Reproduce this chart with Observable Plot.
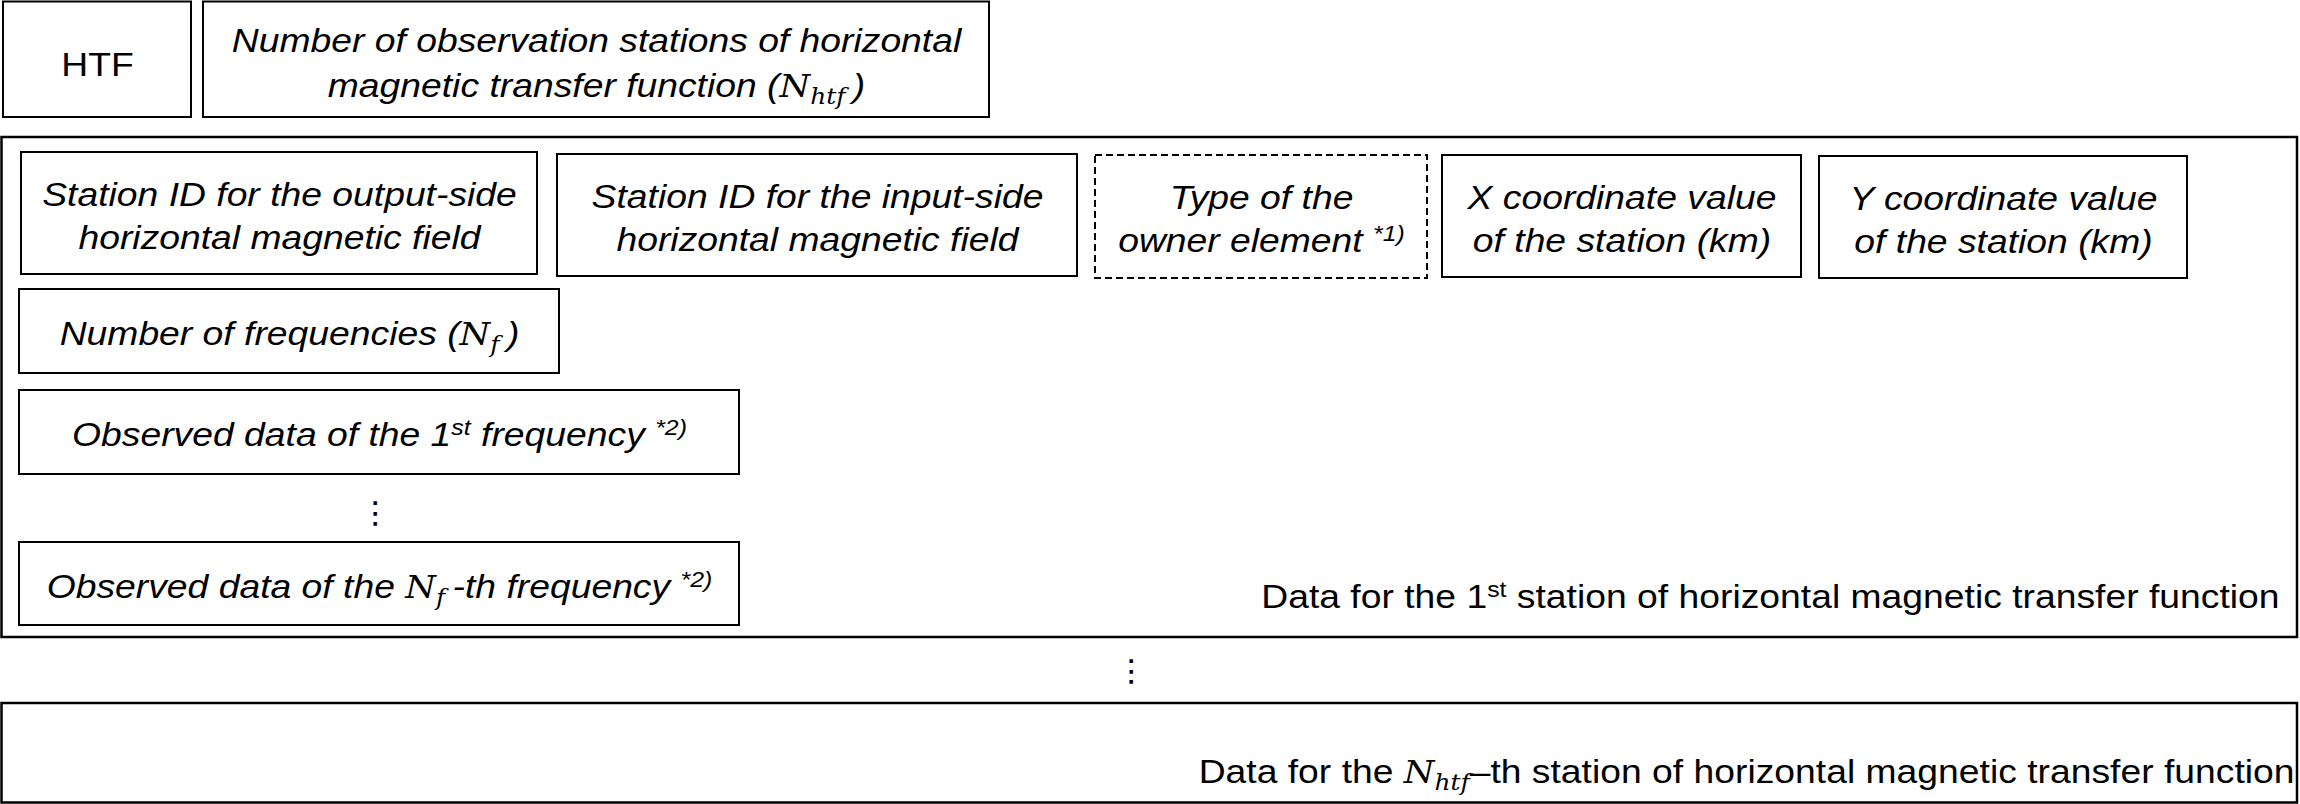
<!DOCTYPE html>
<html><head><meta charset="utf-8">
<script src="https://cdn.jsdelivr.net/npm/d3@7"></script>
<script src="https://cdn.jsdelivr.net/npm/@observablehq/plot@0.6"></script>
<style>html,body{margin:0;padding:0;background:#fff;} svg{display:block}</style>
</head><body><div id="chart"></div>
<script>
// ---------- content (text of every field) ----------
const headerLabels = [
  "HTF",
  "Number of observation stations of horizontal\nmagnetic transfer function ($N$_{htf}\u2009)"
];
const stationFieldLabels = [
  "Station ID for the output-side\nhorizontal magnetic field",
  "Station ID for the input-side\nhorizontal magnetic field",
  "Type of the\nowner element ^{*1)}",
  "X coordinate value\nof the station (km)",
  "Y coordinate value\nof the station (km)"
];
const optionalField = [false, false, true, false, false];
const frequencyLabels = [
  "Number of frequencies ($N$_{f}\u2009)",
  "Observed data of the 1^{st} frequency ^{*2)}",
  "Observed data of the $N$_{f}\u2009-th frequency ^{*2)}"
];
const blockLabels = [
  "Data for the 1^{st} station of horizontal magnetic transfer function",
  "Data for the $N$_{htf}\u2013th station of horizontal magnetic transfer function"
];
const ellipsisLabels = ["\u22EE", "\u22EE"];

// ---------- layout (diagram geometry, pixel space) ----------
const headerLayout = [
  {x1: 3, x2: 191, y1: 1.5, y2: 117},
  {x1: 203, x2: 989, y1: 1.5, y2: 117}
];
const stationLayout = [
  {x1: 21, x2: 537, y1: 152, y2: 274},
  {x1: 557, x2: 1077, y1: 154, y2: 276},
  {x1: 1095, x2: 1427, y1: 155, y2: 278},
  {x1: 1442, x2: 1801, y1: 155, y2: 277},
  {x1: 1819, x2: 2187, y1: 156, y2: 278}
];
const frequencyLayout = [
  {x1: 19, x2: 559, y1: 289, y2: 373},
  {x1: 19, x2: 739, y1: 390, y2: 474},
  {x1: 19, x2: 739, y1: 542, y2: 625}
];
const blockLayout = [
  {x1: 1.5, x2: 2297, y1: 137, y2: 637, tx: 2279, ty: 597},
  {x1: 1.5, x2: 2297, y1: 703, y2: 802.5, tx: 2294, ty: 772}
];
const ellipsisLayout = [{x: 375, y: 513}, {x: 1131, y: 671}];

// ---------- build records ----------
const header = headerLayout.map((b, i) => ({...b, label: headerLabels[i]}));
const station = stationLayout.map((b, i) => ({...b, label: stationFieldLabels[i], dashed: optionalField[i]}));
const freq = frequencyLayout.map((b, i) => ({...b, label: frequencyLabels[i]}));
const blocks = blockLayout.map((b, i) => ({...b, label: blockLabels[i]}));
const ellipses = ellipsisLayout.map((b, i) => ({...b, label: ellipsisLabels[i]}));

const SANS = "'Liberation Sans', Arial, Helvetica, sans-serif";
const MATH = "'DejaVu Serif', 'Liberation Serif', serif";
const FS = 33;
const cx = d => (d.x1 + d.x2) / 2, cy = d => (d.y1 + d.y2) / 2;
const boxStyle = {x1: "x1", x2: "x2", y1: "y1", y2: "y2", fill: "white", stroke: "black", strokeWidth: 2, inset: 0};
const italicText = {x: cx, y: cy, text: "label", fontFamily: SANS, fontSize: FS, fontStyle: "italic",
  lineAnchor: "middle", fill: "black", lineHeight: 1.3};

const chart = Plot.plot({
  width: 2300, height: 804, margin: 0,
  style: {background: "white", fontFamily: SANS},
  x: {type: "linear", domain: [0, 2300], range: [0, 2300], axis: null},
  y: {type: "linear", domain: [0, 804], range: [0, 804], axis: null},
  marks: [
    Plot.rect(blocks, {...boxStyle, fill: "none", strokeWidth: 2.5}),
    Plot.rect(header, boxStyle),
    Plot.rect(station.filter(d => !d.dashed), boxStyle),
    Plot.rect(station.filter(d => d.dashed), {...boxStyle, strokeDasharray: "7,4"}),
    Plot.rect(freq, boxStyle),
    Plot.text(header.slice(0, 1), {...italicText, fontStyle: "normal", y: d => cy(d) + 3}),
    Plot.text(header.slice(1), {...italicText, lineHeight: 1.36}),
    Plot.text(station, italicText),
    Plot.text(freq, italicText),
    Plot.text(blocks, {x: "tx", y: "ty", text: "label", fontFamily: SANS, fontSize: FS, textAnchor: "end",
      lineAnchor: "middle", fill: "black"}),
    Plot.text(ellipses, {x: "x", y: "y", text: "label", fontFamily: "'DejaVu Sans', sans-serif", fontSize: 30,
      lineAnchor: "middle", fill: "black"})
  ]
});

// ---------- rich text: math italic N, subscripts, superscripts ----------
const SVGNS = "http://www.w3.org/2000/svg";
function richify(el) {
  const src = el.textContent;
  if (!/[$_^]/.test(src)) return;
  while (el.firstChild) el.removeChild(el.firstChild);
  const re = /\$([^$]+)\$|_\{([^}]*)\}|\^\{([^}]*)\}|([^$_^]+)/g;
  let m, pending = 0;
  const add = (txt, attrs) => {
    const t = document.createElementNS(SVGNS, "tspan");
    for (const k in attrs) t.setAttribute(k, attrs[k]);
    t.textContent = txt;
    el.appendChild(t);
  };
  while ((m = re.exec(src))) {
    if (m[1] != null) {
      const a = {"font-family": MATH, "font-style": "italic", "font-size": 31};
      if (pending) { a.dy = pending; pending = 0; }
      add(m[1], a);
    } else if (m[2] != null) {
      add(m[2], {"font-family": MATH, "font-style": "italic", "font-size": 22, dy: pending + 7});
      pending = -7;
    } else if (m[3] != null) {
      add(m[3], {"font-size": 22, dy: pending - 11});
      pending = 11;
    } else {
      const a = {};
      if (pending) { a.dy = pending; pending = 0; }
      add(m[4], a);
    }
  }
}
chart.querySelectorAll("text").forEach(t => {
  const lines = t.querySelectorAll(":scope > tspan");
  if (lines.length) lines.forEach(richify); else richify(t);
  const tr = t.getAttribute("transform");
  if (tr) t.setAttribute("transform", tr + " scale(1.13,1)");
});

document.getElementById("chart").appendChild(chart);
</script>
</body></html>
